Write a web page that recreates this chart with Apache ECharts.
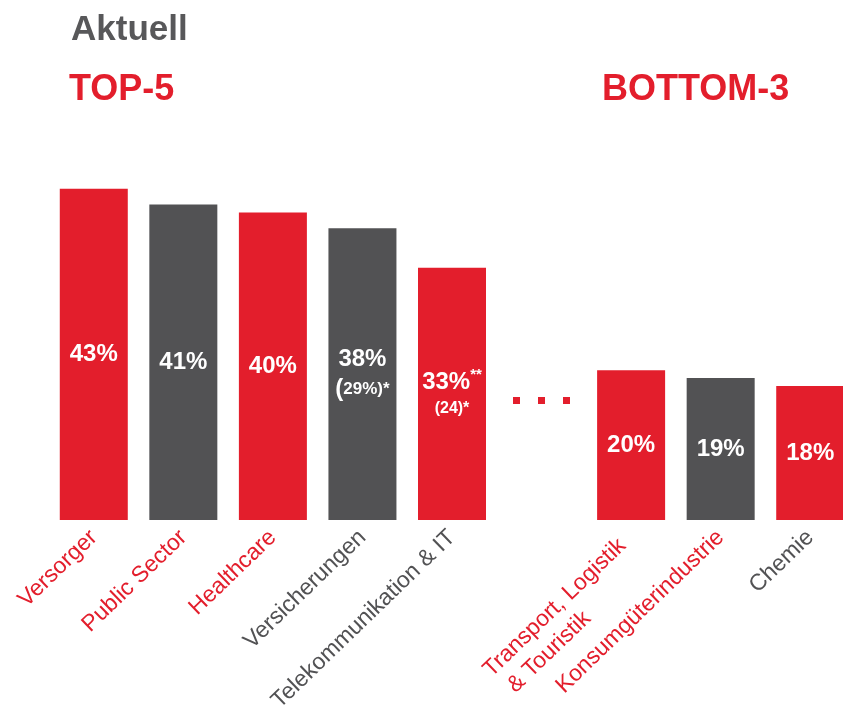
<!DOCTYPE html>
<html>
<head>
<meta charset="utf-8">
<script src="https://cdn.jsdelivr.net/npm/echarts@6/dist/echarts.min.js"></script>
<style>
  html, body { margin: 0; padding: 0; background: #fff; }
  #chart { width: 843px; height: 712px; }
</style>
</head>
<body>
<div id="chart"></div>
<script>
// data (slot 6 is the "..." gap between top-5 and bottom-3)
const categories = ['Versorger', 'Public Sector', 'Healthcare', 'Versicherungen', 'Telekommunikation & IT',
  '', 'Transport, Logistik\n & Touristik', 'Konsumgüterindustrie', 'Chemie'];
const values = [43, 41, 40, 38, 33, null, 20, 19, 18];
const marks = ['', '', '', '', '**', '', '', '', ''];
const notes = ['', '', '', '(29%)*', '(24)*', '', '', '', ''];

const RED = '#e31e2c';
const GREY = '#525254';
const barColors = [RED, GREY, RED, GREY, RED, RED, RED, GREY, RED];
const labelColors = [RED, RED, RED, GREY, GREY, GREY, RED, RED, GREY];

const chart = echarts.init(document.getElementById('chart'));

function barLabel(p) {
  const i = p.dataIndex;
  let s = '{big|' + values[i] + '%}';
  if (marks[i]) s += '{sup|' + marks[i] + '}';
  if (notes[i]) {
    if (notes[i].indexOf('%') > 0) {
      s += '\n{paren|(}{note|' + notes[i].slice(1) + '}';
    } else {
      s += '\n{note2|' + notes[i] + '}';
    }
  }
  return s;
}

// axis labels: multi-line ones are left aligned inside their block, first line on the anchor
function axisLabelText(value) {
  if (value.indexOf('\n') < 0) return value;
  return value.split('\n').map(l => '{l|' + l + '}').join('\n');
}

chart.setOption({
  animation: false,
  textStyle: { fontFamily: 'Liberation Sans, Arial, sans-serif' },
  title: [
    { text: 'Aktuell', left: 66, top: 8,
      textStyle: { fontSize: 35, fontWeight: 'bold', color: '#58585a' } },
    { text: 'TOP-5', left: 64, top: 67,
      textStyle: { fontSize: 36, fontWeight: 'bold', color: RED } },
    { text: 'BOTTOM-3', left: 597, top: 67,
      textStyle: { fontSize: 36, fontWeight: 'bold', color: RED } }
  ],
  grid: { left: 49, width: 806, top: 173, bottom: 192, outerBoundsMode: 'none' },
  xAxis: {
    type: 'category',
    data: categories.map((c, i) => ({
      value: c,
      textStyle: c.indexOf('\n') >= 0
        ? { color: labelColors[i], padding: [28, 12, 0, 0] }
        : { color: labelColors[i] }
    })),
    axisLine: { show: false },
    axisTick: { show: false },
    axisLabel: {
      interval: 0,
      rotate: 44,
      fontSize: 23,
      lineHeight: 28,
      margin: 14,
      hideOverlap: false,
      formatter: axisLabelText,
      rich: {
        l: { fontSize: 23, lineHeight: 28, align: 'left' }
      }
    }
  },
  yAxis: { type: 'value', min: 1, max: 45, show: false },
  series: [{
    type: 'bar',
    barWidth: 68,
    data: values.map((v, i) => ({ value: v, itemStyle: { color: barColors[i] } })),
    label: {
      show: true,
      position: 'inside',
      formatter: barLabel,
      color: '#fff',
      fontWeight: 'bold',
      rich: {
        big: { fontSize: 24, fontWeight: 'bold', color: '#fff', lineHeight: 30 },
        sup: { fontSize: 15, fontWeight: 'bold', color: '#fff', verticalAlign: 'top', lineHeight: 30 },
        paren: { fontSize: 24, fontWeight: 'bold', color: '#fff', lineHeight: 30 },
        note: { fontSize: 17, fontWeight: 'bold', color: '#fff', lineHeight: 30 },
        note2: { fontSize: 16, fontWeight: 'bold', color: '#fff', lineHeight: 22 }
      }
    }
  }],
  graphic: [0, 1, 2].map(k => ({
    type: 'rect',
    shape: { x: 513 + k * 25, y: 397, width: 7, height: 7 },
    style: { fill: RED }
  }))
});
</script>
</body>
</html>
